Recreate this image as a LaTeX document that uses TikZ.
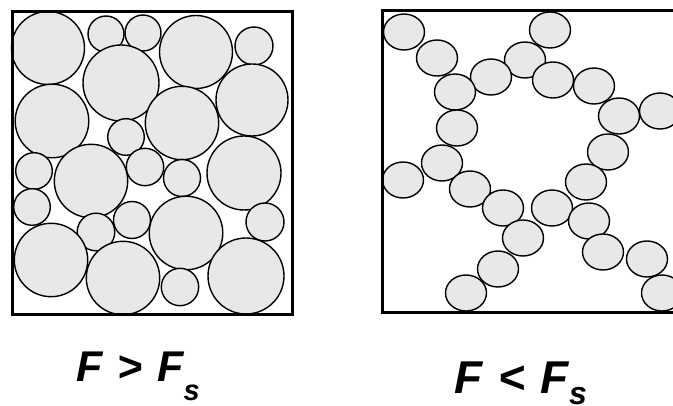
\documentclass[tikz,border=0pt]{standalone}
\usepackage{fontspec}
\newfontfamily\labelfont{Liberation Sans}
\definecolor{grainfill}{RGB}{232,232,232}

\begin{document}
\begin{tikzpicture}[
    x=1pt,y=-1pt,
    frame/.style={line width=3pt},
    grain/.style={draw,line width=1.4pt,fill=grainfill},
    caption/.style={anchor=base west,inner sep=0pt}
]
\useasboundingbox (0,0) rectangle (673,406);

% packed grains, left box
\foreach \cx/\cy/\r in {48/48/36.5, 106/34/18, 143/33/18, 196/52/36.5, 254/46/19,
    121/83/38, 252/100/36, 52/121/36.8, 182/123/36.7, 126/137/18.3,
    34/171/18.3, 91/181/36.7, 145/167/18.7, 182/178/18.5, 244/173/37,
    32/207/18.3, 96/232/18.8, 132/220/18.5, 186/233/36.8, 265/222/19,
    51/260/36.7, 123/278/36.7, 180/287/18.7, 246/276/38}
  \draw[grain] (\cx,\cy) circle[radius=\r pt];
\draw[frame] (12,12) rectangle (292,315);

% chains of grains, right box
\begin{scope}
\clip (0,0) rectangle (673,406);
\foreach \cx/\cy in {404/32, 437/58, 550/30, 525/60, 491/77, 455/92, 553/80,
    594/86, 619/116, 660/111, 457/128, 608/152, 442/163, 403/180, 470/189,
    586/182, 503/208, 552/208, 589/221, 523/238, 603/252, 647/259, 498/269,
    662/293, 466/293}
  \draw[grain] (\cx,\cy) ellipse[x radius=20.5pt,y radius=18pt];
\draw[frame] (673,11) -- (382,11) -- (382,313) -- (673,313);
\end{scope}

\node[caption,font=\labelfont\bfseries\itshape\fontsize{43}{43}\selectfont] (dense) at (76,381.7)
  {F\hspace{0.345em}>\hspace{0.345em}F\raisebox{-19pt}{\fontsize{29}{29}\selectfont s}};
\node[caption,font=\labelfont\bfseries\itshape\fontsize{46}{46}\selectfont] (loose) at (454,393.3)
  {F\hspace{0.345em}<\hspace{0.345em}F\raisebox{-11pt}{\fontsize{32}{32}\selectfont s}};
\end{tikzpicture}
\end{document}
